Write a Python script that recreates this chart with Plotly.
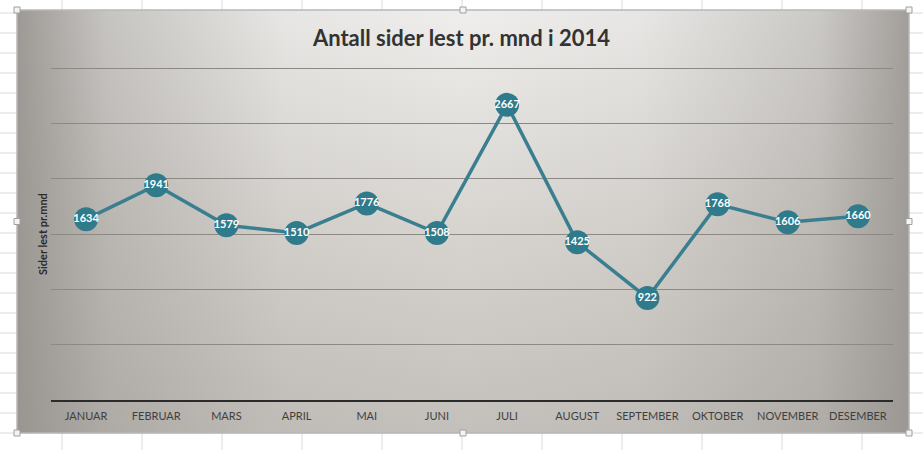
import plotly.graph_objects as go

months = ["JANUAR", "FEBRUAR", "MARS", "APRIL", "MAI", "JUNI", "JULI",
          "AUGUST", "SEPTEMBER", "OKTOBER", "NOVEMBER", "DESEMBER"]
pages = [1634, 1941, 1579, 1510, 1776, 1508, 2667, 1425, 922, 1768, 1606, 1660]
title_text = "Antall sider lest pr. mnd i 2014"
y_title = "Sider lest pr.mnd"

W, H = 923, 450
# chart area (pixels)
cx0, cx1, cy0, cy1 = 17, 909, 10, 433
# plot area (pixels); y max 3000 sits at pixel 68, range padded slightly so the top gridline shows
y_max, y_pad = 3000, 30
px0, px1, py1 = 51, 893, 400
py0 = 68 - (py1 - 68) * y_pad / y_max

def fx(p):
    return p / W

def fy(p):
    return 1 - p / H

fig = go.Figure()

rect_x = [0, 1, 1, 0, 0]
rect_y = [0, 0, 1, 1, 0]
# background of chart area: vertical base gradient
fig.add_trace(go.Scatter(
    x=rect_x, y=rect_y, mode="lines", fill="toself",
    line=dict(width=0), hoverinfo="skip", showlegend=False,
    fillgradient=dict(type="vertical",
                      colorscale=[[0, "#c3bfbb"], [0.5, "#d8d5d1"], [1, "#efeeec"]]),
    xaxis="x", yaxis="y",
))
# horizontal darkening at the side edges
shade = "rgba(148,144,140,{})"
fig.add_trace(go.Scatter(
    x=rect_x, y=rect_y, mode="lines", fill="toself",
    line=dict(width=0), hoverinfo="skip", showlegend=False,
    fillgradient=dict(type="horizontal",
                      colorscale=[[0, shade.format(0.9)], [0.1, shade.format(0.45)],
                                  [0.3, shade.format(0.08)], [0.5, shade.format(0)],
                                  [0.7, shade.format(0.08)], [0.9, shade.format(0.4)],
                                  [1, shade.format(0.85)]]),
    xaxis="x", yaxis="y",
))

fig.add_trace(go.Scatter(
    x=months, y=pages, mode="lines+markers+text",
    text=["<b>" + str(v) + "</b>" for v in pages], textposition="middle center",
    textfont=dict(color="white", size=11, family="Lato"),
    line=dict(color="#3a7f8f", width=3.5),
    marker=dict(size=24, color="#2f7b8c"),
    hoverinfo="skip", showlegend=False,
    xaxis="x2", yaxis="y2",
))

shapes = []
# spreadsheet grid outside the chart
for k in range(12):
    x = 62 + 80 * k
    shapes.append(dict(type="line", xref="paper", yref="paper", x0=fx(x), x1=fx(x),
                       y0=0, y1=1, line=dict(color="#dadada", width=1), layer="below"))
for k in range(23):
    y = 13 + 20 * k
    shapes.append(dict(type="line", xref="paper", yref="paper", x0=0, x1=1,
                       y0=fy(y), y1=fy(y), line=dict(color="#dadada", width=1), layer="below"))
# chart border
shapes.append(dict(type="rect", xref="paper", yref="paper", x0=fx(cx0), x1=fx(cx1),
                   y0=fy(cy1), y1=fy(cy0), line=dict(color="#b8b8b8", width=1.5)))
# selection handles
hs = 3
for hx in (cx0, (cx0 + cx1) / 2, cx1):
    for hy in (cy0, (cy0 + cy1) / 2, cy1):
        if hx == (cx0 + cx1) / 2 and hy == (cy0 + cy1) / 2:
            continue
        shapes.append(dict(type="rect", xref="paper", yref="paper",
                           x0=fx(hx - hs), x1=fx(hx + hs), y0=fy(hy + hs), y1=fy(hy - hs),
                           fillcolor="#f4f4f4", line=dict(color="#a0a0a0", width=1)))

fig.update_layout(
    width=W, height=H,
    margin=dict(l=0, r=0, t=0, b=0),
    paper_bgcolor="white",
    plot_bgcolor="rgba(0,0,0,0)",
    hovermode=False,
    shapes=shapes,
    xaxis=dict(domain=[fx(cx0), fx(cx1)], range=[0, 1], visible=False, fixedrange=True),
    yaxis=dict(domain=[fy(cy1), fy(cy0)], range=[0, 1], visible=False, fixedrange=True),
    xaxis2=dict(domain=[fx(px0), fx(px1)], anchor="y2", range=[-0.5, 11.5],
                showgrid=False, showline=True, linecolor="#2b2b2b", linewidth=2,
                ticks="", ticklabelstandoff=5,
                tickfont=dict(size=11, color="#3f3f3f", family="Lato"),
                fixedrange=True),
    yaxis2=dict(domain=[fy(py1), fy(py0)], anchor="x2", range=[0, y_max + y_pad], dtick=500,
                tick0=0, showgrid=True, gridcolor="#8c8884", gridwidth=1, zeroline=False,
                showticklabels=False, ticks="", fixedrange=True),
    title=dict(text="<b>" + title_text + "</b>", x=0.5, xanchor="center",
               y=fy(38), yanchor="middle", yref="container",
               font=dict(size=22, color="#333333", family="Lato")),
    annotations=[dict(text="<b>" + y_title + "</b>", xref="paper", yref="paper",
                      x=fx(42), y=fy(234), xanchor="center", yanchor="middle",
                      textangle=-90, showarrow=False,
                      font=dict(size=11, color="#2a2a2a", family="Lato"))],
)

fig.write_html("out.html", config={"displayModeBar": False},
               post_script="document.body.style.margin='0';")
